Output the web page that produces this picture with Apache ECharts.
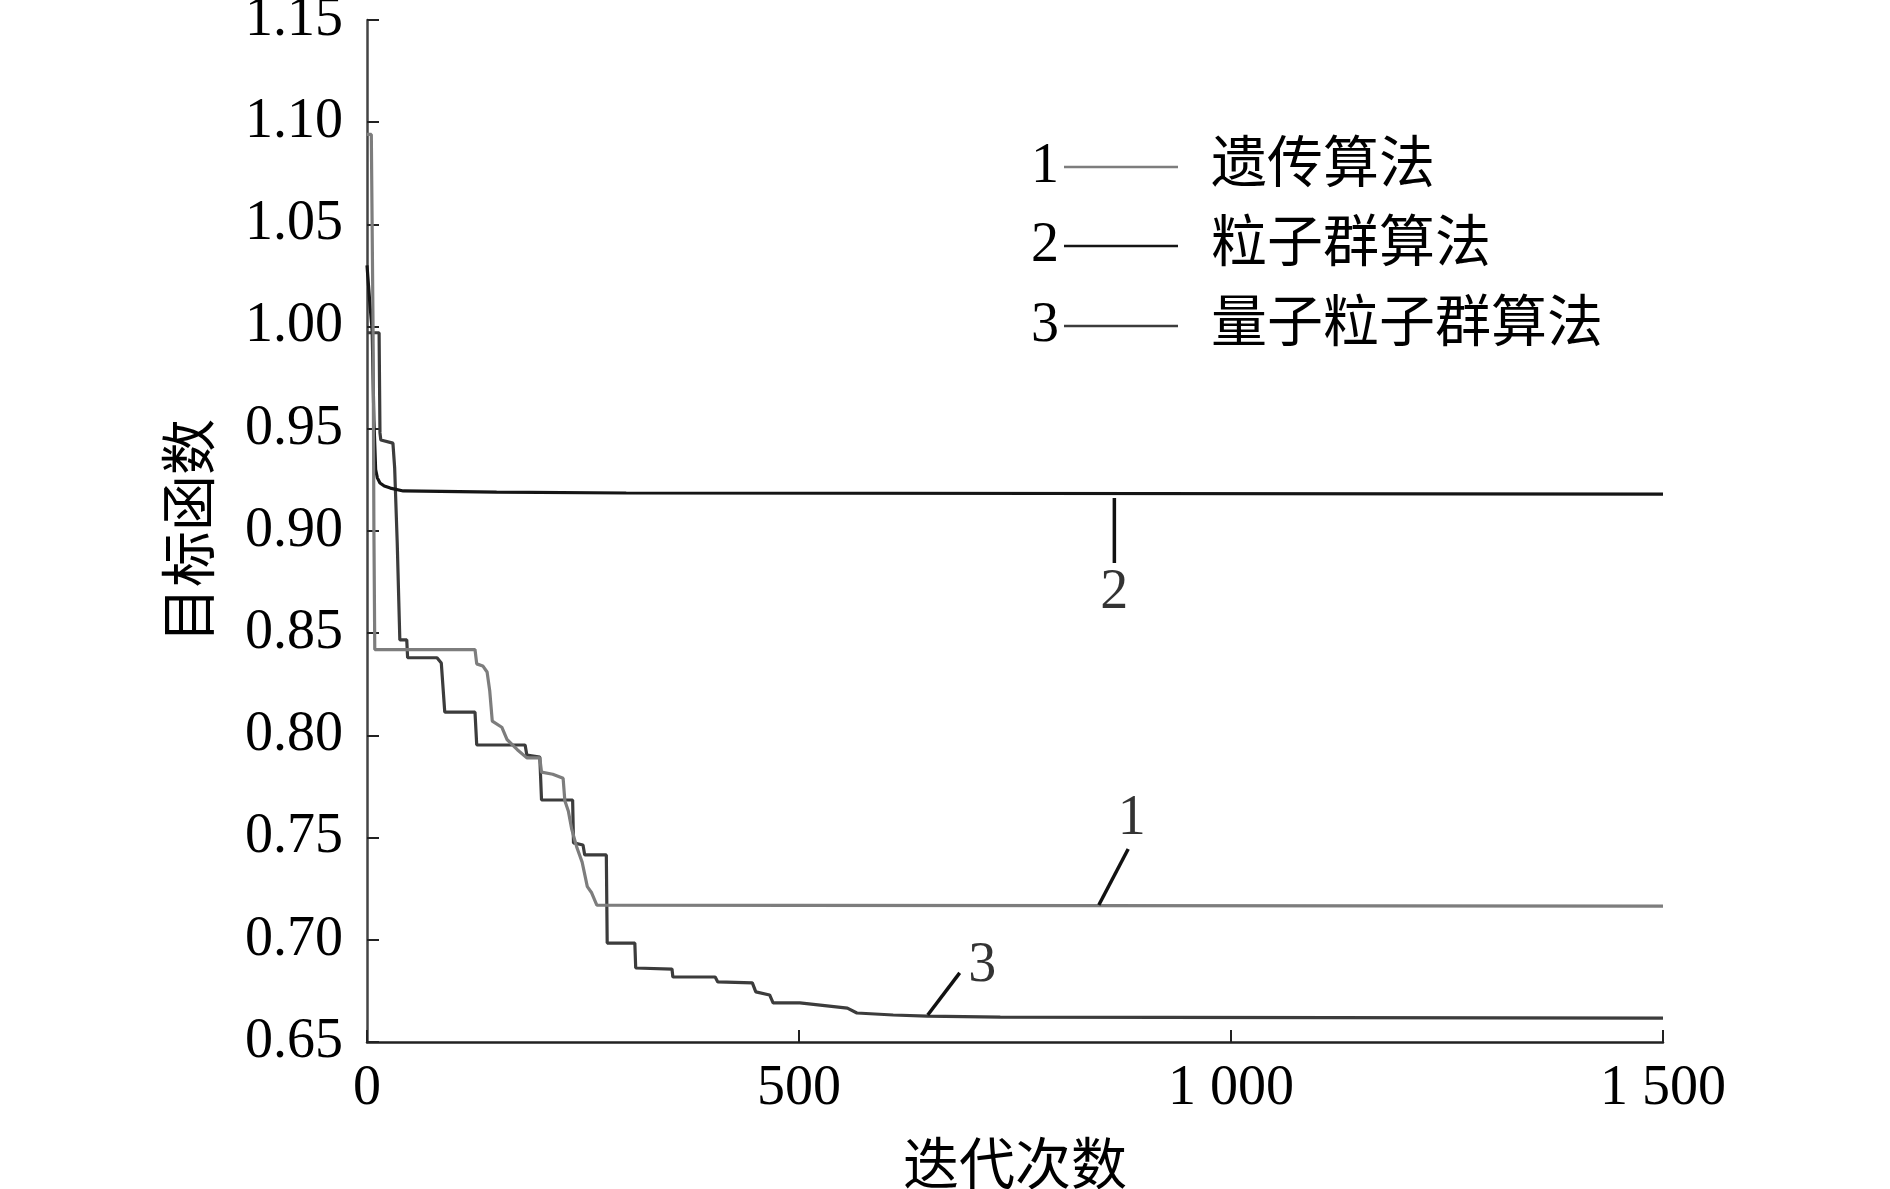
<!DOCTYPE html>
<html>
<head>
<meta charset="utf-8">
<script src="https://cdn.jsdelivr.net/npm/echarts@6/dist/echarts.min.js"></script>
<style>
  html, body { margin: 0; padding: 0; background: #fff; }
  #chart { width: 1890px; height: 1189px; }
</style>
</head>
<body>
<div id="chart"></div>
<script>
// 数据
const seriesNames = ['遗传算法', '粒子群算法', '量子粒子群算法']
const seriesColors = ['#7d7d7d', '#151515', '#3c3c3c']
const xTickLabels = { 0: '0', 500: '500', 1000: '1 000', 1500: '1 500' }

const gaData = [
  [0, 1.094], [5, 1.094], [7, 1.0], [8, 0.9], [9, 0.842], [125, 0.842], [127, 0.835],
  [134, 0.834], [139, 0.831], [142, 0.822], [145, 0.807], [156, 0.804], [162, 0.798],
  [174, 0.793], [185, 0.789], [200, 0.789], [202, 0.782], [215, 0.781], [227, 0.779],
  [229, 0.768], [233, 0.763], [237, 0.754], [243, 0.745], [249, 0.738], [255, 0.726],
  [260, 0.723], [266, 0.717], [500, 0.7168], [1500, 0.7165]
]
const psoData = [
  [0, 1.03], [3, 1.013], [6, 0.998], [8, 0.954], [10, 0.93], [12, 0.926], [15, 0.9235],
  [20, 0.922], [27, 0.921], [42, 0.9196], [150, 0.919], [300, 0.9186], [1500, 0.918]
]
const qpsoData = [
  [0, 0.997], [14, 0.997], [15, 0.948], [16, 0.9445], [30, 0.943], [32, 0.931], [35, 0.894],
  [38, 0.8467], [46, 0.8467], [47, 0.838], [81, 0.838], [86, 0.8354], [90, 0.8114],
  [125, 0.8114], [127, 0.7953], [183, 0.7953], [185, 0.7904], [200, 0.7894], [202, 0.7684],
  [238, 0.7684], [239, 0.7474], [250, 0.7464], [252, 0.7415], [277, 0.7415], [278, 0.6984],
  [310, 0.6984], [311, 0.6862], [353, 0.6857], [354, 0.6818], [403, 0.6818], [406, 0.6794],
  [446, 0.6789], [450, 0.6745], [466, 0.673], [470, 0.6691], [501, 0.6691], [556, 0.6666],
  [567, 0.6642], [609, 0.6632], [648, 0.6627], [733, 0.6622], [1500, 0.6617]
]

// 曲线编号标注
const annotNames = ['1', '2', '3']
const annotLines = [
  [[847, 0.717], [881, 0.7444]],
  [[865, 0.9161], [865, 0.8843]],
  [[649, 0.6632], [686, 0.6838]]
]
const annotText = [[885, 0.759], [865, 0.8697], [712, 0.6872]]

const serif = '"Liberation Serif", "Noto Sans CJK SC", serif'
const fs = 56

const lineSeries = [gaData, psoData, qpsoData].map((d, i) => ({
  name: seriesNames[i],
  type: 'line',
  data: d,
  showSymbol: false,
  silent: true,
  lineStyle: { color: seriesColors[i], width: 3.2 },
  z: 3 - i
}))

const leaderSeries = annotLines.map((d) => ({
  type: 'line',
  data: d,
  showSymbol: false,
  silent: true,
  lineStyle: { color: '#111', width: 3.5 }
}))

const labelSeries = {
  type: 'scatter',
  symbolSize: 0,
  silent: true,
  data: annotText.map((p, i) => ({ value: p, name: annotNames[i] })),
  label: {
    show: true,
    position: 'inside',
    formatter: (p) => p.name,
    fontFamily: serif,
    fontSize: fs,
    color: '#000'
  }
}

// 图例 (编号 + 短线 + 名称)
const legendRows = [169, 248, 328]
const legendGraphic = []
legendRows.forEach((y, i) => {
  legendGraphic.push({
    type: 'text', left: 1031, top: y - 30,
    style: { text: String(i + 1), font: `${fs}px ${serif}`, fill: '#000' }
  })
  legendGraphic.push({
    type: 'line', shape: { x1: 1064, y1: y - 2, x2: 1178, y2: y - 2 },
    style: { stroke: seriesColors[i], lineWidth: 2.5 }
  })
  legendGraphic.push({
    type: 'text', left: 1211, top: y - 30,
    style: { text: seriesNames[i], font: `${fs}px ${serif}`, fill: '#000' }
  })
})

const option = {
  backgroundColor: '#fff',
  animation: false,
  grid: { left: 367, right: 227, top: 20, bottom: 147, outerBoundsMode: 'none' },
  xAxis: {
    type: 'value',
    min: 0,
    max: 1500,
    interval: 500,
    name: '迭代次数',
    nameLocation: 'middle',
    nameGap: 99,
    nameTextStyle: { fontFamily: serif, fontSize: fs, color: '#000' },
    axisLine: { show: true, lineStyle: { color: '#222', width: 2.5 } },
    axisTick: { show: true, inside: true, length: 12, lineStyle: { color: '#222', width: 2 } },
    axisLabel: {
      margin: 19,
      fontFamily: serif,
      fontSize: fs,
      color: '#000',
      formatter: (v) => xTickLabels[v] ?? String(v)
    },
    splitLine: { show: false }
  },
  yAxis: {
    type: 'value',
    min: 0.65,
    max: 1.15,
    interval: 0.05,
    name: '目标函数',
    nameLocation: 'middle',
    nameGap: 145,
    nameTextStyle: { fontFamily: serif, fontSize: fs, color: '#000' },
    axisLine: { show: true, lineStyle: { color: '#444', width: 2.5 } },
    axisTick: { show: true, inside: true, length: 12, lineStyle: { color: '#222', width: 2 } },
    axisLabel: {
      margin: 24,
      fontFamily: serif,
      fontSize: fs,
      color: '#000',
      formatter: (v) => v.toFixed(2)
    },
    splitLine: { show: false }
  },
  graphic: legendGraphic,
  series: [...lineSeries, ...leaderSeries, labelSeries]
}

const myChart = echarts.init(document.getElementById('chart'))
myChart.setOption(option)
</script>
</body>
</html>
